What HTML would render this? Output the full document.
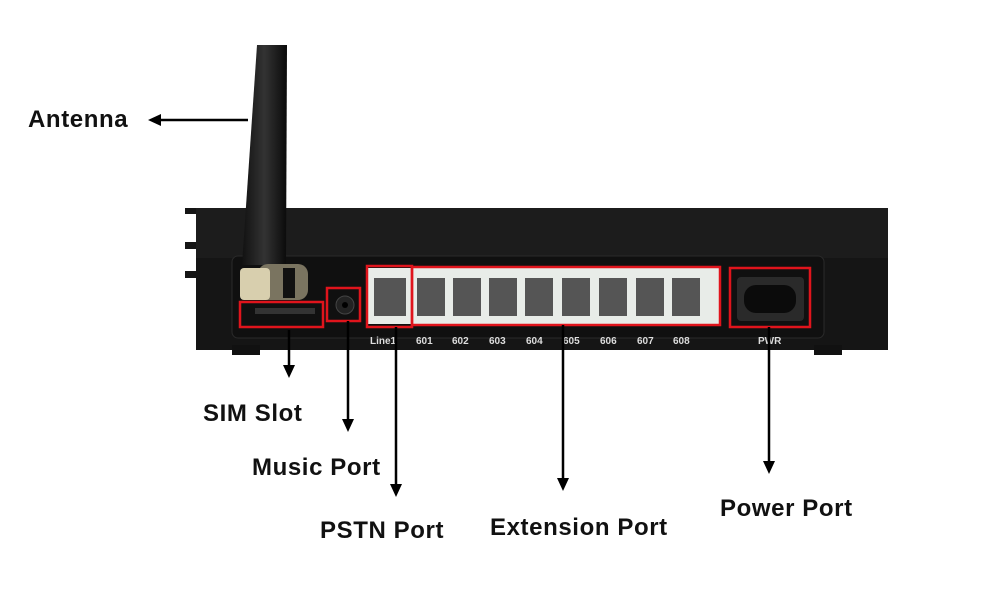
<!DOCTYPE html>
<html><head><style>
body{margin:0;background:#fff;width:1000px;height:590px;overflow:hidden}
svg{display:block}
.l{font-family:"Liberation Sans",sans-serif;font-weight:bold;font-size:24px;letter-spacing:0.6px;fill:#111}
.p{font-family:"Liberation Sans",sans-serif;font-weight:bold;font-size:10px;fill:#ddd}
</style></head><body>
<svg width="1000" height="590" viewBox="0 0 1000 590">
<defs>
<marker id="a" markerWidth="14" markerHeight="14" refX="7" refY="7" orient="auto" markerUnits="userSpaceOnUse"><path d="M0,1 L13,7 L0,13 Z" fill="#000"/></marker>
<linearGradient id="ant" x1="0" x2="1"><stop offset="0" stop-color="#111"/><stop offset=".5" stop-color="#333"/><stop offset="1" stop-color="#0a0a0a"/></linearGradient>
</defs>
<rect x="196" y="208" width="692" height="142" fill="#151515"/>
<rect x="185" y="208" width="14" height="6" fill="#151515"/>
<rect x="185" y="242" width="14" height="7" fill="#151515"/>
<rect x="185" y="271" width="14" height="7" fill="#151515"/>
<rect x="876" y="208" width="12" height="6" fill="#151515"/>
<rect x="876" y="242" width="12" height="7" fill="#151515"/>
<rect x="876" y="271" width="12" height="7" fill="#151515"/>
<rect x="196" y="208" width="692" height="50" fill="#1c1c1c"/>
<rect x="232" y="256" width="592" height="82" rx="6" fill="#101010" stroke="#2a2a2a"/>
<rect x="232" y="345" width="28" height="10" fill="#111"/>
<rect x="814" y="345" width="28" height="10" fill="#111"/>
<rect x="368" y="268" width="352" height="56" fill="#e8ece8"/>
<g fill="#555">
<rect x="374" y="278" width="32" height="38"/>
<rect x="417" y="278" width="28" height="38"/><rect x="453" y="278" width="28" height="38"/>
<rect x="489" y="278" width="28" height="38"/><rect x="525" y="278" width="28" height="38"/>
<rect x="562" y="278" width="28" height="38"/><rect x="599" y="278" width="28" height="38"/>
<rect x="636" y="278" width="28" height="38"/><rect x="672" y="278" width="28" height="38"/>
</g>
<rect x="737" y="277" width="67" height="44" rx="4" fill="#2a2a2a"/>
<rect x="744" y="285" width="52" height="28" rx="12" fill="#0b0b0b"/>
<rect x="255" y="308" width="60" height="6" fill="#333"/>
<circle cx="345" cy="305" r="9" fill="#222" stroke="#444"/>
<circle cx="345" cy="305" r="3" fill="#000"/>
<path d="M257,45 L287,45 L286,265 L242,265 Z" fill="url(#ant)"/>
<rect x="258" y="264" width="50" height="36" rx="10" fill="#7a7460"/>
<rect x="240" y="268" width="30" height="32" rx="4" fill="#d8cfae"/>
<rect x="283" y="268" width="12" height="30" fill="#111"/>
<g fill="none" stroke="#e0141c" stroke-width="2.5">
<rect x="367" y="266" width="45" height="61"/>
<rect x="412" y="267" width="308" height="58"/>
<rect x="730" y="268" width="80" height="59"/>
<rect x="240" y="302" width="83" height="25"/>
<rect x="327" y="288" width="33" height="33"/>
</g>
<text class="p" x="370" y="344">Line1</text>
<text class="p" x="416" y="344">601</text><text class="p" x="452" y="344">602</text>
<text class="p" x="489" y="344">603</text><text class="p" x="526" y="344">604</text>
<text class="p" x="563" y="344">605</text><text class="p" x="600" y="344">606</text>
<text class="p" x="637" y="344">607</text><text class="p" x="673" y="344">608</text>
<text class="p" x="758" y="344">PWR</text>
<g stroke="#000" stroke-width="2.5">
<line x1="248" y1="120" x2="154" y2="120" marker-end="url(#a)"/>
<line x1="289" y1="330" x2="289" y2="372" marker-end="url(#a)"/>
<line x1="348" y1="321" x2="348" y2="426" marker-end="url(#a)"/>
<line x1="396" y1="327" x2="396" y2="491" marker-end="url(#a)"/>
<line x1="563" y1="325" x2="563" y2="485" marker-end="url(#a)"/>
<line x1="769" y1="327" x2="769" y2="468" marker-end="url(#a)"/>
</g>
<text class="l" x="28" y="127">Antenna</text>
<text class="l" x="203" y="421">SIM Slot</text>
<text class="l" x="252" y="475">Music Port</text>
<text class="l" x="320" y="538">PSTN Port</text>
<text class="l" x="490" y="535">Extension Port</text>
<text class="l" x="720" y="516">Power Port</text>
</svg>
</body></html>
